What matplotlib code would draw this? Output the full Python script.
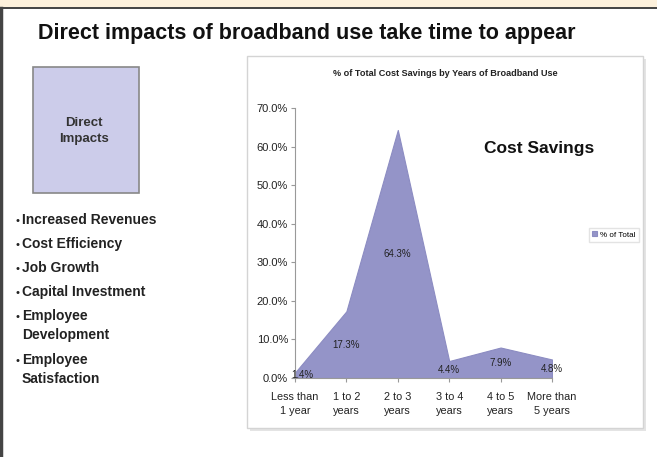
import matplotlib
matplotlib.use("Agg")
import matplotlib.pyplot as plt
from matplotlib.patches import Rectangle
from matplotlib.ticker import FuncFormatter

plt.rcParams['font.family'] = ['Liberation Sans', 'DejaVu Sans']

# cost savings share by years of broadband use
categories = ["Less than\n1 year", "1 to 2\nyears", "2 to 3\nyears",
              "3 to 4\nyears", "4 to 5\nyears", "More than\n5 years"]
pct_total = [1.4, 17.3, 64.3, 4.4, 7.9, 4.8]
y_ticks = [0, 10, 20, 30, 40, 50, 60, 70]

impacts = ["Increased Revenues", "Cost Efficiency", "Job Growth",
           "Capital Investment", "Employee\nDevelopment", "Employee\nSatisfaction"]

W, H = 657, 457
fig = plt.figure(figsize=(W / 100, H / 100), dpi=100)
fig.patch.set_facecolor("white")

def px(x, y):
    # pixel position (from top-left) -> figure fraction
    return x / W, 1 - y / H

def box(x0, y0, x1, y1):
    return [x0 / W, 1 - y1 / H, (x1 - x0) / W, (y1 - y0) / H]

# slide frame: beige strip on top, dark rules
bg = fig.add_axes([0, 0, 1, 1])
bg.set_xlim(0, W)
bg.set_ylim(H, 0)
bg.axis("off")
bg.add_patch(Rectangle((0, 0), W, 7, facecolor="#fdf1dc", edgecolor="none"))
bg.plot([0, W], [7.5, 7.5], color="#222222", lw=1.2)
bg.plot([1, 1], [7.5, H], color="#444444", lw=2.5)

# chart frame with soft shadow
bg.add_patch(Rectangle((250, 59), 396, 372, facecolor="#e4e4e4", edgecolor="none"))
bg.add_patch(Rectangle((247, 56), 396, 372, facecolor="white", edgecolor="#d4d4d4", lw=1))

# "Direct Impacts" box
bg.add_patch(Rectangle((33, 67), 106, 126, facecolor="#ccccea", edgecolor="#888888", lw=1.2))
bg.text(84, 131, "Direct\nImpacts", ha="center", va="center", fontsize=9.5,
        fontweight="bold", color="#333333", linespacing=1.45)

fig.text(*px(38, 33), "Direct impacts of broadband use take time to appear",
         ha="left", va="center", fontsize=15.5, fontweight="bold", color="#111111")

# bullet list
y = 221
for item in impacts:
    bg.text(15, y, "\u2022", ha="left", va="center", fontsize=8, color="#222222")
    bg.text(22, y - 8, item, ha="left", va="top", fontsize=10,
            fontweight="bold", color="#222222", linespacing=1.45)
    y += 24 + (20 if "\n" in item else 0)

# area chart
ax = fig.add_axes(box(295, 108, 552, 378))
x = list(range(len(categories)))
ax.fill_between(x, pct_total, 0, facecolor="#9494c8", edgecolor="#8c8cc2", lw=0.8,
                label="% of Total")
ax.set_xlim(0, len(categories) - 1)
ax.set_ylim(0, 70)
ax.set_yticks(y_ticks)
ax.yaxis.set_major_formatter(FuncFormatter(lambda v, p: f"{v:.1f}%"))
ax.set_xticks(x)
ax.set_xticklabels(categories, fontsize=7.8, color="#222222", linespacing=1.55)
ax.tick_params(axis="y", labelsize=8, labelcolor="#222222", length=3, color="#999999", pad=2)
ax.tick_params(axis="x", length=3, color="#999999", pad=7)
for s in ["top", "right"]:
    ax.spines[s].set_visible(False)
for s in ["left", "bottom"]:
    ax.spines[s].set_color("#999999")
    ax.spines[s].set_linewidth(0.8)
ax.patch.set_alpha(0)

# value labels sit halfway up each point; the first one is nudged off the axis
for xi, v in zip(x, pct_total):
    if xi == 0:
        ax.annotate(f"{v:.1f}%", (xi, v / 2), xytext=(-3, 0), textcoords="offset points",
                    ha="left", va="center", fontsize=7, color="#222222")
    else:
        ax.text(xi, v / 2, f"{v:.1f}%", ha="center", va="center",
                fontsize=7, color="#222222")

fig.text(*px(445, 74), "% of Total Cost Savings by Years of Broadband Use",
         ha="center", va="center", fontsize=6.6, fontweight="bold", color="#222222")
fig.text(*px(539, 148), "Cost Savings", ha="center", va="center",
         fontsize=12.5, fontweight="bold", color="#111111")

ax.legend(loc="center left", bbox_to_anchor=px(585, 235),
          bbox_transform=fig.transFigure, frameon=True,
          fontsize=5.8, handlelength=0.6, handleheight=0.6, handletextpad=0.4,
          borderpad=0.4, edgecolor="#dddddd", fancybox=False)

fig.savefig("out.png", dpi=100)
